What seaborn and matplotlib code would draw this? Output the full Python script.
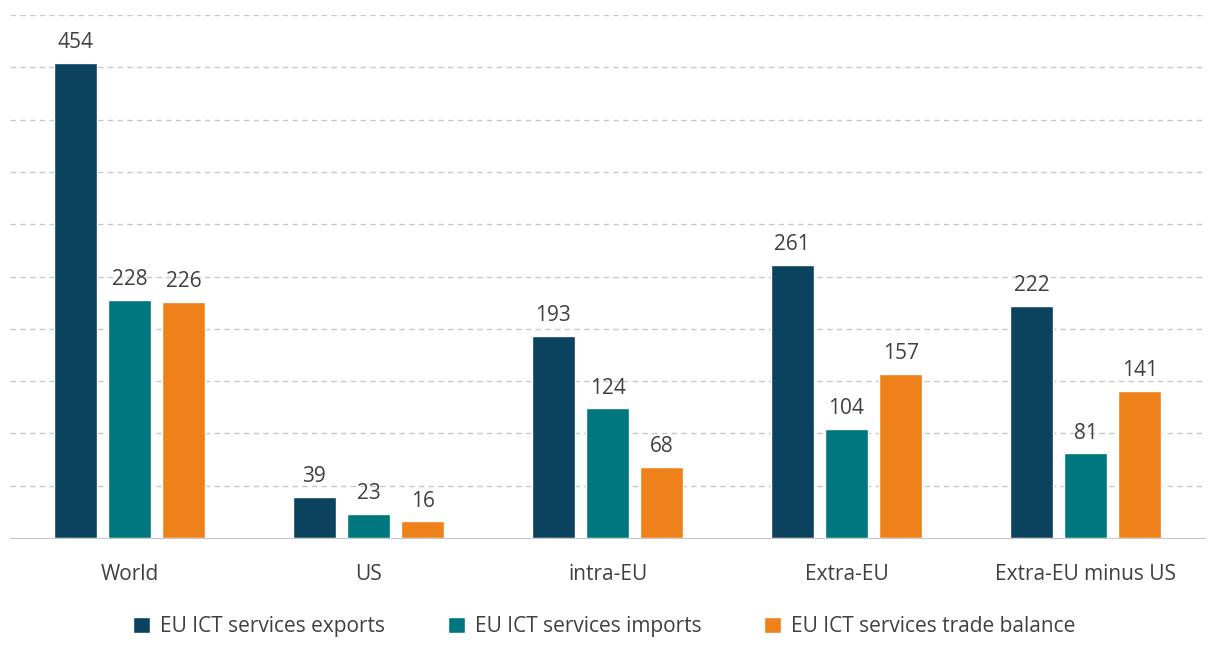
import pandas as pd
import seaborn as sns
import matplotlib.pyplot as plt

# Chart data
regions = ["World", "US", "intra-EU", "Extra-EU", "Extra-EU minus US"]
exports = [454, 39, 193, 261, 222]
imports = [228, 23, 124, 104, 81]
balance = [226, 16, 68, 157, 141]
series = ["EU ICT services exports", "EU ICT services imports", "EU ICT services trade balance"]
colors = ["#0B425E", "#00777F", "#EE8119"]

df = pd.DataFrame({
    "region": regions * 3,
    "value": exports + imports + balance,
    "series": [series[0]] * 5 + [series[1]] * 5 + [series[2]] * 5,
})

sns.set_style("white")
plt.rcParams["font.family"] = ["Open Sans", "DejaVu Sans"]
text_col = "#404040"
fs = 15

fig = plt.figure(figsize=(12.09, 6.47), dpi=100)
ax = fig.add_axes([10 / 1209, 109 / 647, 1195 / 1209, 523 / 647])

sns.barplot(data=df, x="region", y="value", hue="series", palette=colors,
            width=0.68, gap=0.2, ax=ax, legend=True, saturation=1)

ax.set_ylim(0, 500)
ax.set_xlim(-0.5, 4.5)
ax.set_yticks(range(50, 501, 50))
ax.yaxis.grid(True, linestyle=(0, (4, 3)), color="#C8C8C8", linewidth=1)
ax.set_axisbelow(True)
ax.tick_params(axis="y", left=False, labelleft=False)
ax.tick_params(axis="x", bottom=False, labelsize=fs, colors=text_col, pad=15)
for s in ["top", "right", "left"]:
    ax.spines[s].set_visible(False)
ax.spines["bottom"].set_color("#C8C8C8")
ax.set_xlabel("")
ax.set_ylabel("")

for cont in ax.containers:
    ax.bar_label(cont, fmt="%d", padding=7, fontsize=fs, color=text_col)

handles, labels = ax.get_legend_handles_labels()
ax.get_legend().remove()
fig.legend(handles, labels, loc="center", bbox_to_anchor=(0.5, 0.032), ncol=3,
           frameon=False, fontsize=fs, labelcolor=text_col, handlelength=0.8,
           handleheight=0.8, columnspacing=3.0, handletextpad=0.5)

fig.savefig("out.png", dpi=100)
